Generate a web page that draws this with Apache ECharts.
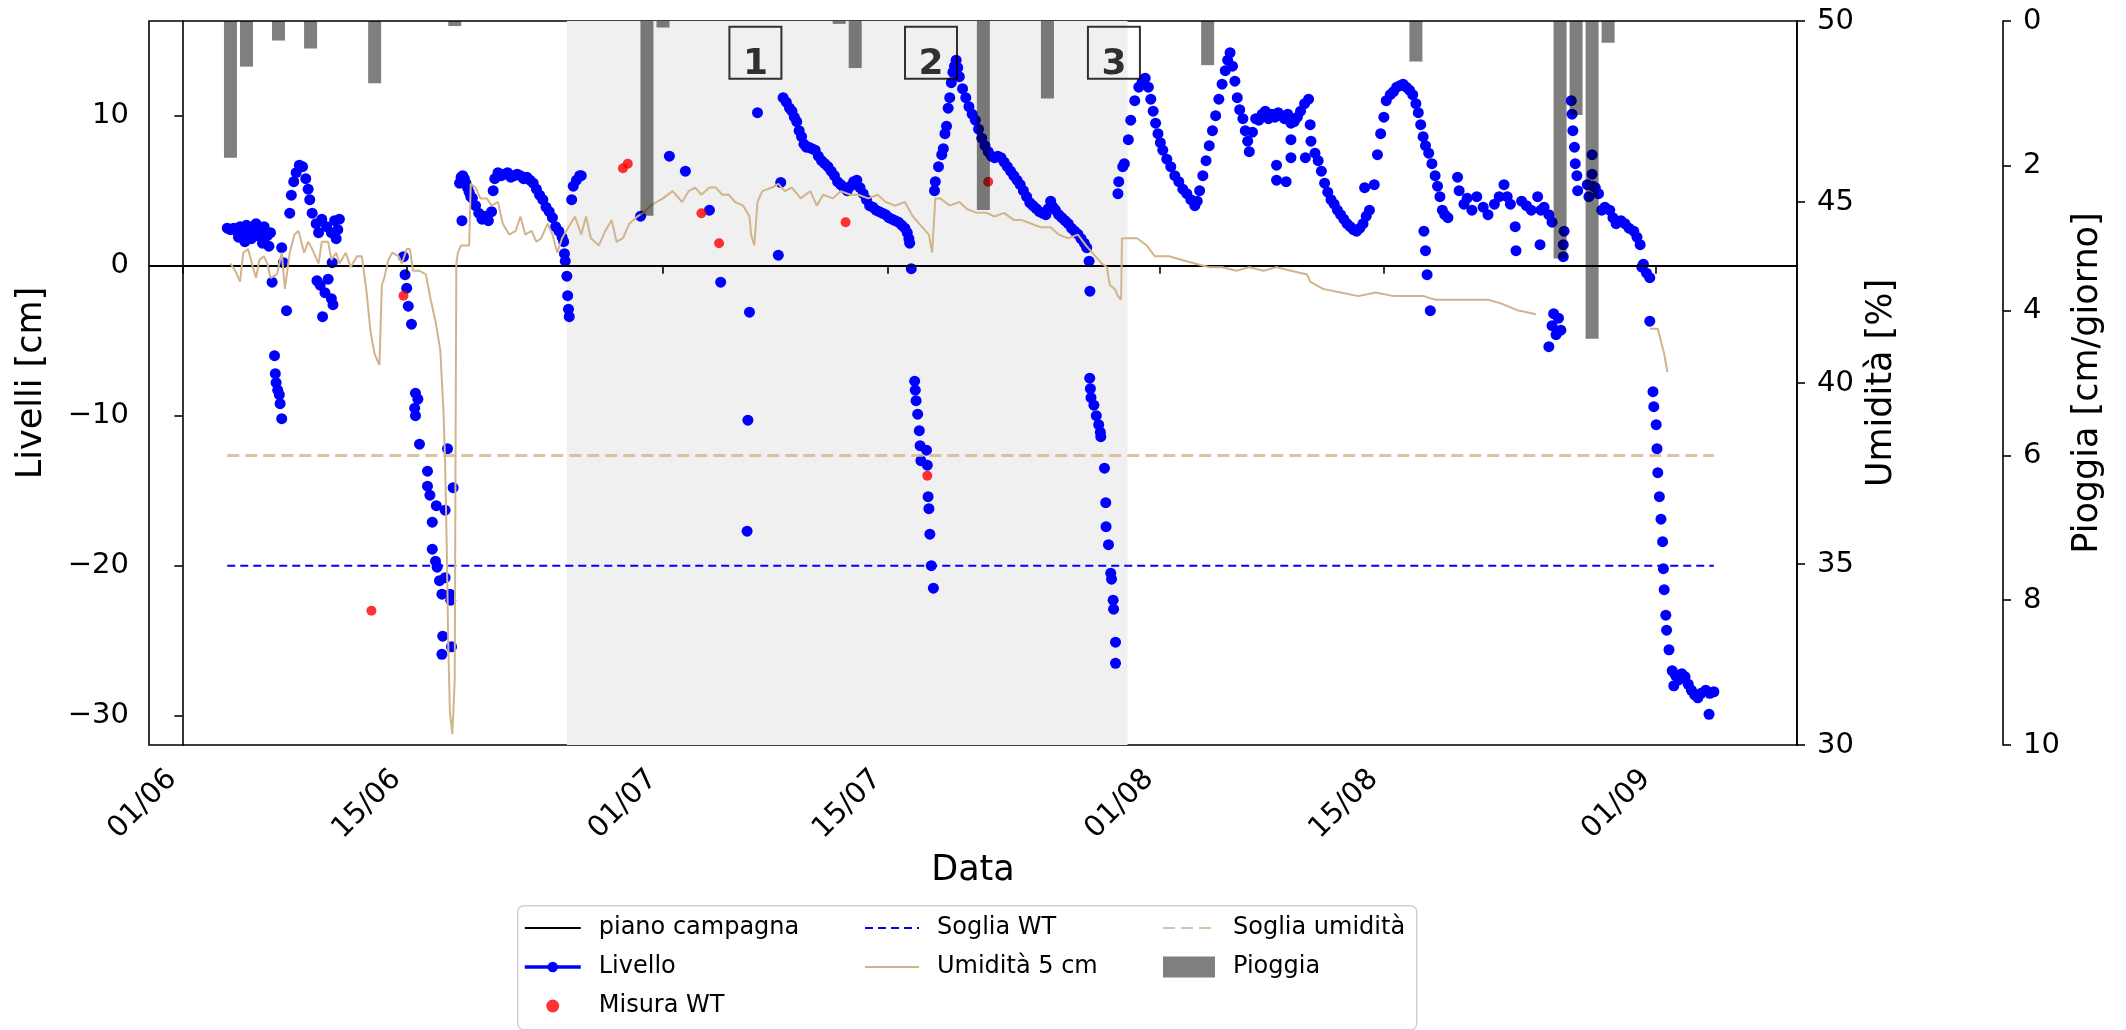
<!DOCTYPE html>
<html>
<head>
<meta charset="utf-8">
<title>Livelli, umidità e pioggia</title>
<script src="https://cdn.jsdelivr.net/npm/echarts@6/dist/echarts.min.js"></script>
<style>
    html, body { margin: 0; padding: 0; background: #fff; }
    #chart { width: 2126px; height: 1030px; }
</style>
</head>
<body>
<div id="chart"></div>
<script>
// x = giorni dal 01/06
var xTickDays = [0, 14, 30, 44, 61, 75, 92];
var livelliTicks = [-30, -20, -10, 0, 10];
var sogliaWT = -20;
var sogliaUmidita = 38;
var periodo = [24, 59];

// Livello [cm]
var livello = [
    [2.8,2.5],[3.0,2.4],[3.2,2.5],[3.4,2.3],[3.5,1.9],[3.6,2.6],[3.8,2.2],[3.9,1.6],[4.0,2.7],[4.2,2.4],
    [4.3,1.8],[4.5,2.5],[4.6,2.8],[4.7,2.0],[4.9,2.3],[5.0,1.5],[5.1,2.6],[5.3,2.0],[5.4,1.3],[5.5,2.2],
    [5.6,-1.1],[5.75,-6.0],[5.8,-7.2],[5.85,-7.8],[5.95,-8.3],[6.05,-8.6],[6.1,-9.2],[6.2,-10.2],[6.2,1.2],[6.3,0.2],[6.5,-3.0],
    [6.7,3.5],[6.8,4.7],[6.95,5.6],[7.1,6.2],[7.3,6.7],[7.5,6.6],[7.7,5.8],[7.85,5.1],[7.95,4.4],[8.1,3.5],
    [8.35,2.8],[8.5,2.2],[8.7,3.1],[9.0,2.6],[9.3,2.2],[9.5,3.0],[9.8,3.1],[9.7,2.4],[9.6,1.8],
    [8.4,-1.0],[8.6,-1.3],[8.9,-1.8],[9.1,-0.9],[9.3,-2.2],[8.75,-3.4],[9.35,0.2],[9.4,-2.6],
    [13.8,0.6],[13.9,-0.6],[14.0,-1.5],[14.1,-2.7],[14.3,-3.9],[14.55,-8.5],[14.5,-9.5],[14.55,-10.0],[14.7,-8.9],
    [14.8,-11.9],[15.3,-13.7],[15.3,-14.7],[15.45,-15.3],[15.6,-17.1],[15.85,-16.0],[16.4,-16.3],[16.9,-14.8],
    [16.55,-12.2],[15.6,-18.9],[15.8,-19.7],[15.9,-20.1],[16.05,-21.0],[16.4,-20.8],[16.2,-21.9],[16.7,-21.9],
    [16.75,-22.3],[16.25,-24.7],[16.2,-25.9],[16.8,-25.4],
    [17.45,3.0],[17.3,5.5],[17.4,5.9],[17.5,6.0],[17.6,5.8],[17.7,5.5],[17.8,5.2],[17.9,4.9],[18.0,4.6],[18.1,4.5],
    [18.3,4.0],[18.5,3.5],[18.7,3.1],[18.9,3.3],[19.1,3.0],[19.3,3.6],[19.4,5.0],[19.5,5.8],[19.7,6.2],[19.9,6.0],
    [20.1,6.1],[20.3,6.2],[20.5,5.9],[20.7,6.0],[20.9,6.1],[21.1,6.0],[21.3,5.8],[21.5,5.9],[21.7,5.7],[21.9,5.5],
    [22.1,5.1],[22.3,4.7],[22.5,4.4],[22.7,3.9],[22.9,3.6],[23.1,3.2],[23.3,2.6],[23.5,2.3],[23.7,1.9],[23.8,1.6],
    [23.85,0.8],[23.9,0.3],[24.0,-0.7],[24.05,-2.0],[24.1,-2.9],[24.15,-3.4],[24.3,4.4],[24.4,5.3],[24.6,5.7],[24.8,6.0],[24.9,6.0],
    [28.6,3.3],[30.4,7.3],[31.4,6.3],[32.9,3.7],[33.6,-1.1],[35.4,-3.1],[35.3,-10.3],[35.25,-17.7],[35.9,10.2],[37.2,0.7],[37.35,5.55],
    [37.5,11.2],[37.7,10.9],[37.9,10.5],[38.05,10.3],[38.2,9.9],[38.35,9.6],[38.5,9.0],[38.65,8.6],[38.8,8.1],[38.95,7.9],
    [39.1,7.9],[39.3,7.8],[39.5,7.7],[39.7,7.3],[39.9,7.0],[40.1,6.8],[40.3,6.6],[40.5,6.3],[40.7,6.0],[40.9,5.6],
    [41.1,5.4],[41.3,5.2],[41.5,5.0],[41.7,5.3],[41.9,5.6],[42.1,5.7],[42.3,5.2],[42.5,4.8],[42.7,4.4],[42.9,4.0],
    [43.1,3.9],[43.3,3.7],[43.5,3.6],[43.7,3.5],[43.9,3.4],[44.1,3.2],[44.3,3.1],[44.5,3.0],[44.7,2.9],[44.9,2.7],
    [45.1,2.5],[45.25,2.2],[45.35,1.8],[45.4,1.5],[45.5,-0.2],
    [45.71,-7.7],[45.75,-8.3],[45.8,-9.0],[45.9,-9.9],[46.0,-11.0],[46.05,-12.0],[46.1,-13.0],[46.45,-12.3],[46.5,-13.3],
    [46.55,-15.4],[46.6,-16.2],[46.66,-17.9],[46.75,-20.0],[46.88,-21.5],
    [46.95,5.0],[47.0,5.6],[47.2,6.6],[47.4,7.4],[47.5,7.8],[47.6,8.8],[47.7,9.3],[47.8,10.5],[47.9,11.2],[48.0,12.2],
    [48.1,12.9],[48.2,13.3],[48.3,13.7],[48.4,13.2],[48.5,12.6],[48.7,11.8],[48.9,11.2],[49.1,10.6],[49.3,10.1],[49.5,9.7],
    [49.7,9.1],[49.9,8.5],[50.1,8.0],[50.3,7.6],[50.5,7.3],[50.7,7.2],[50.9,7.3],[51.1,7.2],[51.3,6.9],[51.5,6.6],
    [51.7,6.3],[51.9,6.0],[52.1,5.7],[52.3,5.4],[52.5,5.0],[52.7,4.6],[52.9,4.2],[53.1,4.0],[53.3,3.8],[53.5,3.6],
    [53.7,3.5],[53.9,3.4],[54.05,3.8],[54.2,4.3],[54.35,3.9],[54.5,3.7],[54.7,3.4],[54.9,3.2],[55.1,3.0],[55.3,2.8],
    [55.5,2.5],[55.7,2.3],[55.9,2.1],[56.1,1.8],[56.3,1.5],[56.45,1.2],[56.6,0.3],
    [56.65,-1.7],[56.64,-7.5],[56.68,-8.2],[56.72,-8.8],[56.9,-9.3],[57.05,-10.0],[57.2,-10.6],[57.3,-11.1],[57.33,-11.4],
    [57.56,-13.5],[57.64,-15.8],[57.66,-17.4],[57.81,-18.6],[57.95,-20.5],[58.0,-20.9],[58.1,-22.3],[58.13,-22.9],[58.25,-25.1],[58.25,-26.5],
    [58.4,4.8],[58.45,5.6],[58.7,6.6],[58.8,6.8],[59.05,8.4],[59.2,9.7],[59.45,11.0],[59.7,11.9],[59.9,12.2],[60.1,12.5],
    [60.3,11.9],[60.45,11.1],[60.6,10.3],[60.75,9.5],[60.9,8.8],[61.05,8.2],[61.2,7.7],[61.45,7.1],[61.7,6.6],[61.95,6.0],
    [62.2,5.6],[62.45,5.1],[62.7,4.8],[62.95,4.4],[63.2,4.0],[63.35,4.3],[63.5,5.0],[63.7,6.0],[63.9,7.0],[64.1,8.0],
    [64.3,9.0],[64.5,10.0],[64.7,11.1],[64.9,12.1],[65.1,13.0],[65.25,13.7],[65.4,14.2],[65.55,13.3],[65.7,12.3],[65.85,11.2],
    [66.0,10.4],[66.2,9.8],[66.35,9.0],[66.5,8.3],[66.6,7.6],[66.8,8.9],[67.0,9.8],[67.2,9.7],[67.4,10.1],[67.6,10.3],
    [67.8,9.8],[68.0,10.1],[68.2,9.9],[68.4,10.2],[68.6,10.0],[68.8,9.8],[69.0,10.1],[69.2,9.5],[69.2,8.4],[69.2,7.2],
    [68.3,6.7],[68.3,5.7],[68.9,5.6],[69.4,9.6],[69.6,9.9],[69.8,10.3],[70.05,10.8],[70.3,11.1],[70.4,9.4],[70.45,8.3],
    [70.1,7.2],[70.7,7.5],[70.9,7.0],[71.1,6.3],[71.3,5.5],[71.5,4.9],[71.7,4.4],[71.9,4.1],[72.1,3.7],[72.3,3.4],
    [72.5,3.1],[72.7,2.8],[72.9,2.6],[73.1,2.4],[73.3,2.3],[73.5,2.5],[73.7,2.8],[73.9,3.3],[74.1,3.7],[73.8,5.2],
    [74.4,5.4],[74.6,7.4],[74.8,8.8],[75.0,9.9],[75.15,11.0],[75.4,11.4],[75.6,11.6],[75.8,11.9],[76.0,12.0],[76.2,12.1],
    [76.4,11.9],[76.6,11.7],[76.8,11.4],[77.0,10.8],[77.15,10.2],[77.3,9.4],[77.45,8.6],[77.6,8.0],[77.8,7.5],[78.0,6.8],
    [78.2,6.0],[78.35,5.3],[78.5,4.6],[78.65,3.7],[78.8,3.4],[79.0,3.2],
    [77.5,2.3],[77.6,1.0],[77.7,-0.6],[77.9,-3.0],
    [79.6,5.9],[79.7,5.0],[80.0,4.1],[80.2,4.5],[80.5,3.7],[80.8,4.6],[81.2,3.9],[81.5,3.4],[81.9,4.1],[82.2,4.6],
    [82.5,5.4],[82.7,4.6],[82.9,4.1],[83.2,2.6],[83.25,1.0],[83.6,4.3],[83.9,4.0],[84.2,3.7],[84.6,4.6],[84.8,3.7],
    [84.75,1.4],[85.0,3.9],[85.3,3.4],[85.5,2.9],
    [85.3,-5.4],[85.5,-4.0],[85.6,-3.2],[85.75,-4.6],[85.9,-3.5],[86.05,-4.3],
    [86.2,1.4],[86.25,2.3],[86.2,0.6],[86.7,11.0],[86.75,10.1],[86.8,9.0],[86.9,7.9],[86.95,6.8],[87.1,5.0],[87.05,6.0],
    [87.7,5.4],[87.8,4.6],[88.0,7.4],[88.0,6.1],[88.05,5.3],[88.2,5.2],[88.4,4.8],[88.6,3.7],[88.8,3.9],[89.1,3.7],
    [89.3,3.2],[89.5,2.8],[89.8,3.0],[90.05,2.8],[90.3,2.5],[90.6,2.3],[90.8,1.9],[91.0,1.4],[91.2,0.1],[91.1,-0.1],
    [91.4,-0.5],[91.6,-0.8],
    [91.6,-3.7],[91.8,-8.4],[91.85,-9.4],[92.0,-10.6],[92.05,-12.2],[92.1,-13.8],[92.2,-15.4],[92.3,-16.9],[92.4,-18.4],
    [92.45,-20.2],[92.5,-21.6],[92.6,-23.3],[92.65,-24.3],[92.8,-25.6],[93.0,-27.0],[93.2,-27.3],[93.1,-28.0],[93.4,-27.6],
    [93.6,-27.2],[93.8,-27.4],[94.0,-27.9],[94.2,-28.3],[94.4,-28.6],[94.6,-28.8],[94.8,-28.5],[95.1,-28.3],[95.35,-28.5],
    [95.6,-28.4],[95.3,-29.9]
];

// Misura WT [cm]
var misuraWT = [
    [11.8,-23.0],[13.8,-2.0],[27.5,6.5],[27.8,6.8],[32.4,3.5],[33.5,1.5],[41.4,2.9],[46.5,-14.0],[50.3,5.6]
];

// Umidità 5 cm [%]
var umidita5cm = [
    [3.0,43.3],[3.3,43.1],[3.6,42.8],[3.8,43.6],[4.1,43.7],[4.4,43.2],[4.6,42.9],[4.8,43.4],[5.1,43.5],[5.3,43.3],
    [5.5,42.9],[5.9,43.0],[6.2,43.6],[6.4,42.6],[6.7,43.6],[7.0,44.1],[7.25,44.2],[7.6,43.6],[7.85,43.9],[8.1,43.7],
    [8.5,43.3],[8.7,43.9],[9.1,43.9],[9.3,43.4],[9.6,43.6],[9.8,43.3],[10.2,43.6],[10.5,43.2],[10.9,43.5],[11.2,43.5],
    [11.5,42.5],[11.75,41.4],[12.0,40.8],[12.2,40.6],[12.3,40.5],[12.45,42.7],[12.6,42.9],[12.85,43.4],[13.1,43.6],[13.5,43.5],
    [13.7,43.3],[14.0,43.7],[14.2,43.7],[14.4,43.1],[14.8,43.1],[15.2,43.0],[15.5,42.3],[15.8,41.7],[16.1,40.9],[16.3,39.2],
    [16.4,37.8],[16.5,35.5],[16.6,32.7],[16.7,30.9],[16.85,30.3],[17.0,31.8],[17.05,38.0],[17.1,43.3],[17.2,43.6],[17.4,43.8],
    [17.7,43.8],[17.9,43.8],[18.0,45.5],[18.3,45.4],[18.6,45.1],[19.0,45.1],[19.3,44.9],[19.7,45.0],[20.0,44.4],[20.4,44.1],
    [20.8,44.2],[21.1,44.6],[21.4,44.1],[21.8,44.2],[22.1,43.9],[22.4,44.0],[22.8,44.4],[23.1,44.1],[23.4,43.6],[23.7,44.0],
    [24.1,44.3],[24.5,44.6],[24.9,44.1],[25.2,44.6],[25.5,44.0],[26.0,43.8],[26.4,44.2],[26.8,44.5],[27.1,43.9],[27.5,44.0],
    [27.9,44.4],[28.4,44.6],[28.8,44.7],[29.2,44.9],[29.6,45.0],[30.0,45.1],[30.6,45.3],[31.2,45.0],[31.6,45.3],[32.0,45.4],
    [32.4,45.2],[32.9,45.4],[33.3,45.4],[33.7,45.2],[34.1,45.2],[34.5,45.0],[35.0,44.9],[35.4,44.6],[35.5,44.1],[35.7,43.8],
    [35.9,45.0],[36.2,45.3],[36.8,45.4],[37.2,45.5],[37.6,45.3],[38.05,45.4],[38.6,45.1],[39.2,45.3],[39.6,44.9],[40.0,45.2],
    [40.6,45.1],[41.1,45.3],[41.7,45.2],[42.2,45.2],[42.8,45.1],[43.4,45.2],[43.9,45.0],[44.5,44.9],[45.1,45.0],[45.6,44.6],
    [46.2,44.3],[46.6,44.1],[46.8,43.6],[47.0,45.1],[47.3,45.1],[47.9,44.9],[48.5,45.0],[49.0,44.8],[49.6,44.7],[50.2,44.7],
    [50.7,44.6],[51.3,44.7],[51.9,44.5],[52.4,44.5],[53.0,44.4],[53.6,44.3],[54.2,44.3],[54.7,44.1],[55.3,44.0],[55.9,44.1],
    [56.4,43.8],[57.0,43.5],[57.4,43.3],[57.7,43.2],[57.9,42.7],[58.2,42.6],[58.4,42.4],[58.6,42.3],[58.65,44.0],[59.0,44.0],
    [59.6,44.0],[60.2,43.8],[60.7,43.5],[61.6,43.5],[62.4,43.4],[63.2,43.3],[64.1,43.2],[64.9,43.2],[65.8,43.1],[66.6,43.2],
    [67.5,43.1],[68.3,43.2],[69.2,43.1],[70.2,43.0],[70.4,42.8],[71.2,42.6],[72.3,42.5],[73.4,42.4],[74.5,42.5],[75.6,42.4],
    [76.7,42.4],[77.5,42.4],[78.2,42.3],[79.3,42.3],[80.4,42.3],[81.5,42.3],[82.3,42.2],[83.4,42.0],[84.5,41.9],
    null,
    [91.6,41.5],[92.1,41.5],[92.5,40.8],[92.7,40.3]
];

// Pioggia [cm/giorno]
var pioggiaGiorni = [3, 4, 6, 8, 12, 17, 29, 30, 41, 42, 50, 54, 64, 77, 86, 87, 88, 89];
var pioggiaValori = [1.89, 0.63, 0.27, 0.38, 0.86, 0.07, 2.69, 0.09, 0.04, 0.65, 2.61, 1.07, 0.61, 0.56, 3.28, 1.3, 4.39, 0.3];

// riquadri numerati
var riquadri = ['1', '2', '3'];
var riquadriGiorni = [35.77, 46.73, 58.15];
var riquadriLivello = [14.2, 14.2, 14.2];

var FONT = 'DejaVu Sans';

function dataLabel(d) {
    var t = new Date(Date.UTC(2020, 5, 1) + d * 86400000);
    var dd = ('0' + t.getUTCDate()).slice(-2);
    var mm = ('0' + (t.getUTCMonth() + 1)).slice(-2);
    return dd + '/' + mm;
}
function minus(v) { return String(v).replace('-', '\u2212'); }

var giorni = livello.map(function (p) { return p[0]; });
var dStart = Math.min.apply(null, giorni);
var dEnd = Math.max.apply(null, giorni);

var axisLineStyle = { color: '#000', width: 1.6 };
var tickLabel = { fontSize: 29, color: '#000', fontFamily: FONT, margin: 20 };
var nameStyle = { fontSize: 35, color: '#000', fontFamily: FONT };
var legendText = { fontSize: 24, color: '#000', fontFamily: FONT, lineHeight: 30, padding: [0, 0, 0, 13] };
var noMarker = { opacity: 0 };

var option = {
    animation: false,
    backgroundColor: '#fff',
    grid: { left: 149, right: 329, top: 21, bottom: 285, show: true, borderColor: '#000', borderWidth: 1.6, backgroundColor: 'transparent' },
    xAxis: {
        type: 'value', min: -2.085, max: 100.79, z: 5,
        name: 'Data', nameLocation: 'middle', nameGap: 108, nameTextStyle: nameStyle,
        axisLine: { show: true, lineStyle: axisLineStyle },
        axisTick: { show: true, length: 8, lineStyle: axisLineStyle, customValues: xTickDays },
        axisLabel: Object.assign({}, tickLabel, { rotate: 45, margin: 40, verticalAlign: 'bottom', customValues: xTickDays, formatter: dataLabel }),
        splitLine: { show: false }
    },
    yAxis: [
        {
            type: 'value', min: -31.95, max: 16.31, position: 'left',
            name: 'Livelli [cm]', nameLocation: 'middle', nameRotate: 90, nameGap: 100, nameTextStyle: nameStyle,
            axisLine: { show: true, lineStyle: axisLineStyle },
            axisTick: { show: true, length: 8, lineStyle: axisLineStyle, customValues: livelliTicks },
            axisLabel: Object.assign({}, tickLabel, { customValues: livelliTicks, formatter: minus }),
            splitLine: { show: false }
        },
        {
            type: 'value', min: 30, max: 50, interval: 5, position: 'right',
            name: 'Umidità [%]', nameLocation: 'middle', nameRotate: 90, nameGap: 66, nameTextStyle: nameStyle,
            axisLine: { show: true, lineStyle: axisLineStyle },
            axisTick: { show: true, length: 8, lineStyle: axisLineStyle },
            axisLabel: tickLabel,
            splitLine: { show: false }
        },
        {
            type: 'value', min: 0, max: 10, interval: 2, inverse: true, position: 'right', offset: 206,
            name: 'Pioggia [cm/giorno]', nameLocation: 'middle', nameRotate: 90, nameGap: 64, nameTextStyle: nameStyle,
            axisLine: { show: true, lineStyle: axisLineStyle },
            axisTick: { show: true, length: 8, lineStyle: axisLineStyle },
            axisLabel: tickLabel,
            splitLine: { show: false }
        }
    ],
    legend: [
        {
            orient: 'vertical', left: 523, top: 913, padding: 0, itemWidth: 56, itemHeight: 13, itemGap: 9,
            selectedMode: false, textStyle: legendText,
            data: [
                { name: 'piano campagna', itemStyle: noMarker },
                { name: 'Livello', lineStyle: { width: 3.5 } },
                { name: 'Misura WT', icon: 'circle' }
            ]
        },
        {
            orient: 'vertical', left: 864, top: 913, padding: 0, itemWidth: 54, itemHeight: 13, itemGap: 9,
            selectedMode: false, textStyle: legendText,
            data: [{ name: 'Soglia WT', itemStyle: noMarker }, { name: 'Umidità 5 cm', itemStyle: noMarker }]
        },
        {
            orient: 'vertical', left: 1162, top: 913, padding: 0, itemWidth: 52, itemHeight: 21, itemGap: 9,
            selectedMode: false, textStyle: legendText,
            data: [{ name: 'Soglia umidità', itemStyle: noMarker }, { name: 'Pioggia', icon: 'rect' }]
        }
    ],
    graphic: [{
        type: 'rect', left: 517, top: 905, z: 1,
        shape: { width: 899, height: 124, r: 6 },
        style: { fill: '#fff', stroke: '#d0d0d0', lineWidth: 1.5 }
    }],
    series: [
        {
            name: 'periodo', type: 'line', data: [], z: 0, silent: true,
            markArea: {
                silent: true, itemStyle: { color: '#f0f0f0' },
                data: [[{ xAxis: periodo[0] }, { xAxis: periodo[1] }]]
            }
        },
        {
            name: 'piano campagna', type: 'line', data: [], symbol: 'none', z: 2,
            lineStyle: { color: '#000', width: 2 }, itemStyle: { color: '#000' },
            markLine: {
                silent: true, symbol: 'none', label: { show: false },
                lineStyle: { color: '#000', width: 2, type: 'solid' },
                data: [{ yAxis: 0 }]
            }
        },
        {
            name: 'Soglia WT', type: 'line', symbol: 'none', z: 2,
            data: [[dStart, sogliaWT], [dEnd, sogliaWT]],
            lineStyle: { color: '#0000ff', width: 2, type: [8, 5] }, itemStyle: { color: '#0000ff' }
        },
        {
            name: 'Livello', type: 'line', data: livello, symbol: 'circle', symbolSize: 11, showSymbol: true, z: 3,
            lineStyle: { width: 0, color: '#0000ff' }, itemStyle: { color: '#0000ff' }
        },
        {
            name: 'Misura WT', type: 'scatter', data: misuraWT, symbol: 'circle', symbolSize: 10, z: 4,
            itemStyle: { color: '#ff0000' }
        },
        {
            name: 'Umidità 5 cm', type: 'line', yAxisIndex: 1, data: umidita5cm, symbol: 'none', z: 5, connectNulls: false,
            lineStyle: { color: '#d2b48c', width: 2 }, itemStyle: { color: '#d2b48c' }
        },
        {
            name: 'Soglia umidità', type: 'line', yAxisIndex: 1, symbol: 'none', z: 5,
            data: [[dStart, sogliaUmidita], [dEnd, sogliaUmidita]],
            lineStyle: { color: '#d2b48c', width: 3, opacity: 0.8, type: [12, 6] }, itemStyle: { color: '#d2b48c' }
        },
        {
            name: 'Pioggia', type: 'bar', yAxisIndex: 2, barWidth: 13, z: 6,
            data: pioggiaGiorni.map(function (d, i) { return [d, pioggiaValori[i]]; }),
            itemStyle: { color: 'rgba(0,0,0,0.5)' }
        },
        {
            name: 'riquadri', type: 'scatter', yAxisIndex: 0, z: 10, silent: true,
            data: riquadri.map(function (t, i) { return [riquadriGiorni[i], riquadriLivello[i], t]; }),
            symbol: 'rect', symbolSize: 52,
            itemStyle: { color: 'rgba(0,0,0,0)', borderColor: '#000', borderWidth: 2 },
            label: {
                show: true, position: 'inside', offset: [0, 12],
                formatter: function (p) { return p.value[2]; },
                fontSize: 36, fontWeight: 'bold', color: '#000', fontFamily: FONT
            }
        }
    ]
};

echarts.init(document.getElementById('chart')).setOption(option);
</script>
</body>
</html>
